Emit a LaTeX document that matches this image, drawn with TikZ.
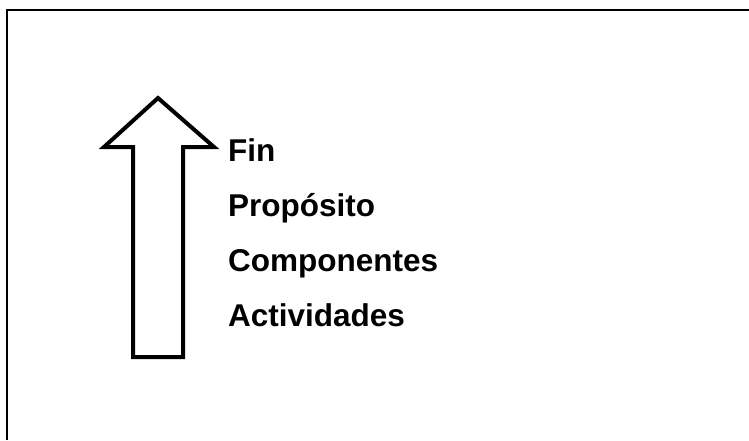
\documentclass[tikz,border=0pt]{standalone}
\usepackage{fontspec}
\setmainfont{Liberation Sans}
\begin{document}
\begin{tikzpicture}[x=1pt,y=-1pt,
  frame/.style={line width=2pt},
  uparrow/.style={line width=4pt, line join=miter},
  label/.style={anchor=base west, inner sep=0pt, font=\fontsize{31.5}{38}\selectfont\bfseries}]
\useasboundingbox (0,0) rectangle (749,440);
\draw[frame] (7,440) -- (7,10) -- (749,10);
\draw[uparrow] (133,357) -- (133,147) -- (104,147) -- (158,98) -- (214,147) -- (183,147) -- (183,357) -- cycle;
\node[label] (fin) at (228,161) {Fin};
\node[label] (prop) at (228,216) {Propósito};
\node[label] (comp) at (228,271) {Componentes};
\node[label] (act) at (228,326) {Actividades};
\end{tikzpicture}
\end{document}
